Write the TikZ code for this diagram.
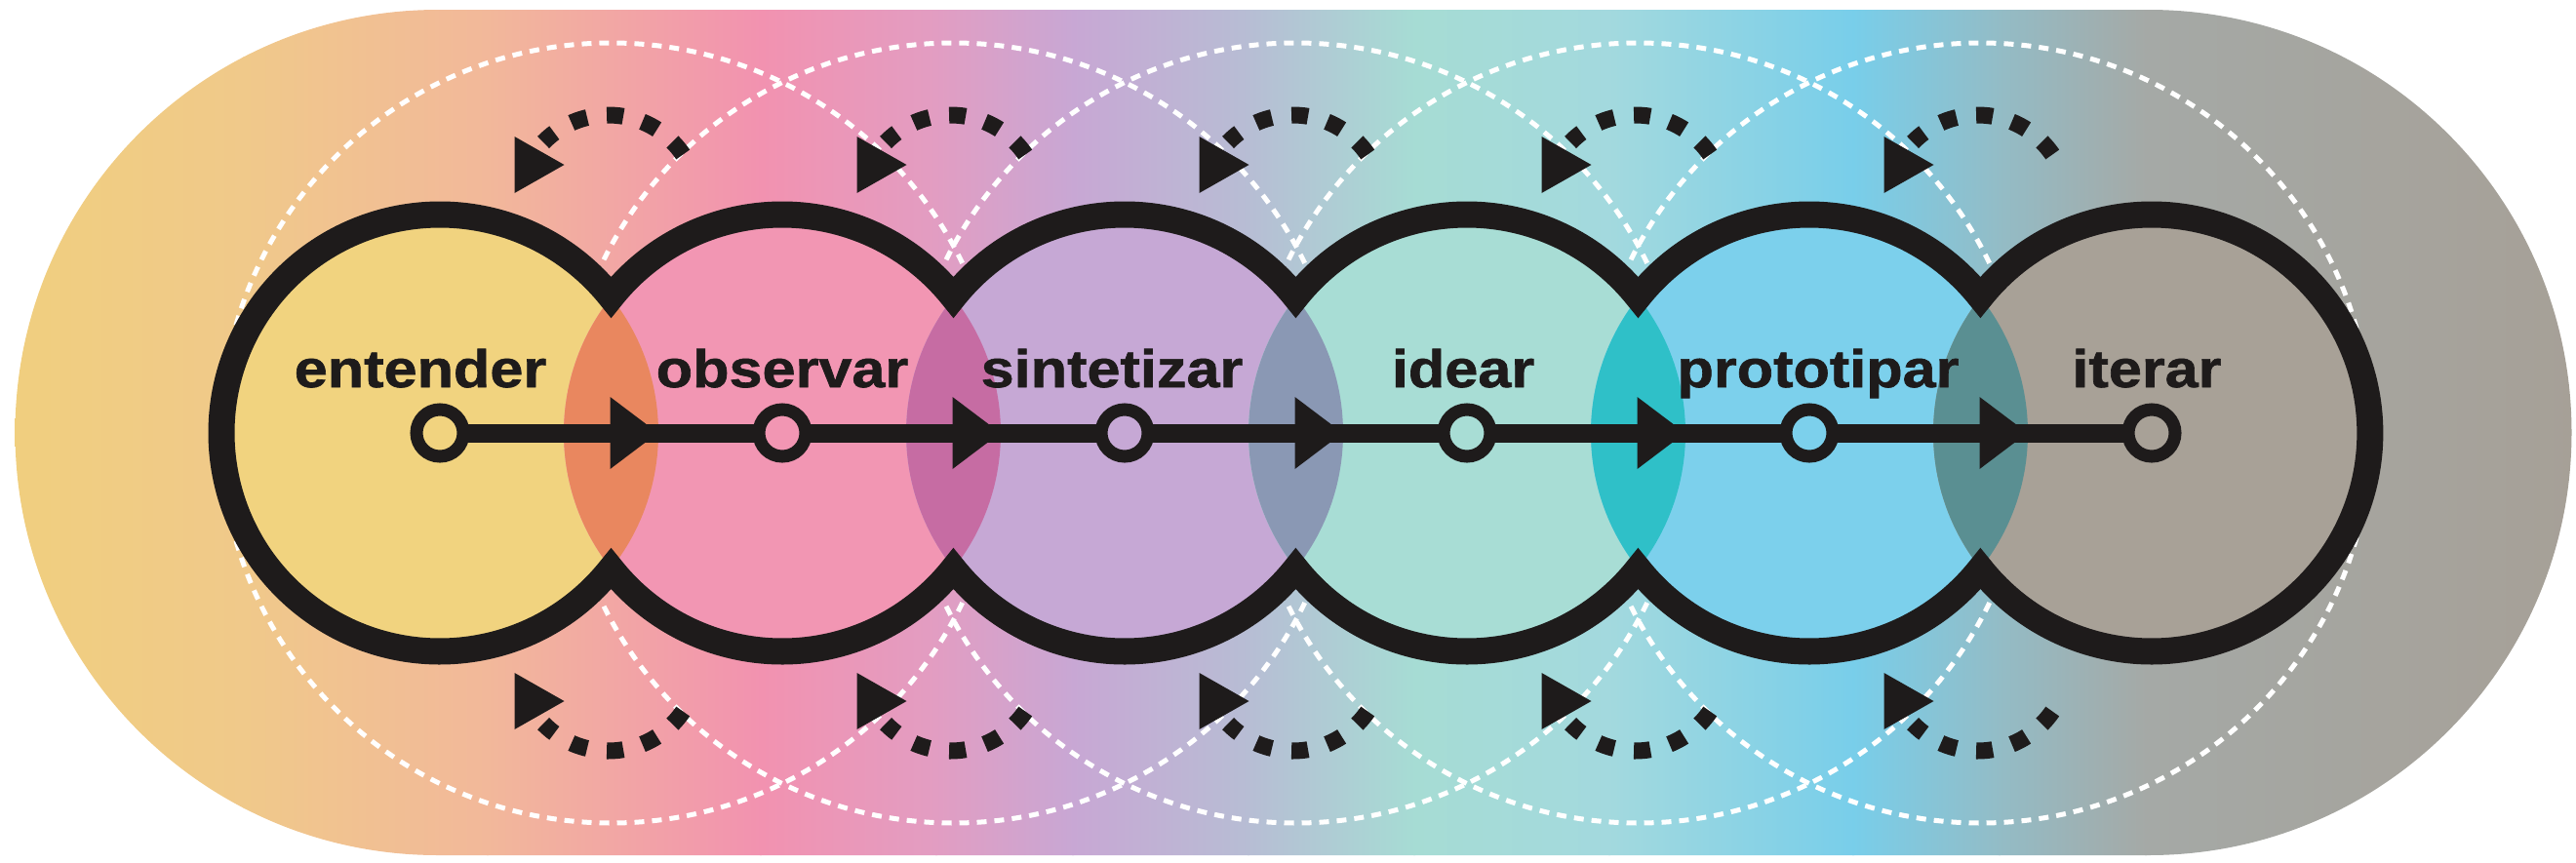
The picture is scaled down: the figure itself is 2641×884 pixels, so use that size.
\documentclass[tikz,border=0pt]{standalone}
\usepackage{fontspec}
\newfontfamily\labfont{Liberation Sans}[FakeStretch=1.13,FakeBold=1.2]
\usetikzlibrary{calc}
\definecolor{ink}{HTML}{1E1B1B}
\definecolor{bgA}{HTML}{F0CF7E}
\definecolor{bgB}{HTML}{F0C98A}
\definecolor{bgC}{HTML}{F2B89A}
\definecolor{bgD}{HTML}{F292B0}
\definecolor{bgE}{HTML}{E29DC2}
\definecolor{bgF}{HTML}{C8A7D4}
\definecolor{bgG}{HTML}{B7BDD4}
\definecolor{bgH}{HTML}{A6DCD4}
\definecolor{bgI}{HTML}{A3D9DE}
\definecolor{bgJ}{HTML}{78CEEA}
\definecolor{bgK}{HTML}{93BCC6}
\definecolor{bgL}{HTML}{A5A9A6}
\definecolor{bgM}{HTML}{A6A097}
\definecolor{cA}{HTML}{F1D37F}
\definecolor{cB}{HTML}{F296B3}
\definecolor{cC}{HTML}{C6A8D5}
\definecolor{cD}{HTML}{A8DDD5}
\definecolor{cE}{HTML}{7CD0EC}
\definecolor{cF}{HTML}{A8A197}
\definecolor{lA}{HTML}{E9875F}
\definecolor{lB}{HTML}{C66CA3}
\definecolor{lC}{HTML}{8A98B4}
\definecolor{lD}{HTML}{2FC0C8}
\definecolor{lE}{HTML}{5A8F92}
\begin{document}
\begin{tikzpicture}[x=0.01cm,y=-0.01cm,
  lbl/.style={font=\labfont\bfseries\fontsize{15.4pt}{18pt}\selectfont, text=ink, anchor=base, inner sep=0pt},
  outline/.style={draw=ink, line width=0.27cm, line join=miter},
  dashc/.style={draw=white, line width=0.05cm, dash pattern=on 0.1cm off 0.08cm},
  dotarc/.style={draw=ink, line width=0.17cm, dash pattern=on 0.17cm off 0.203cm},
  mainline/.style={draw=ink, line width=0.19cm},
  marker/.style={circle, draw=ink, line width=0.13cm, minimum size=0.48cm, inner sep=0pt},
]
\useasboundingbox (0,0) rectangle (2641,884);

% centres of the six circles and the five cusps
\foreach \i in {1,...,6} \coordinate (c\i) at ({451+351*(\i-1)},444);
\foreach \i in {1,...,5} \coordinate (k\i) at ({626.5+351*(\i-1)},444);

% background stadium with horizontal gradient
\begin{scope}
  \clip (449,10) -- (2203,10) arc[start angle=-90,end angle=90,radius=433.5]
        -- (449,877) arc[start angle=90,end angle=270,radius=433.5] -- cycle;
  \foreach \xa/\xb/\ca/\cb in {0/250/bgA/bgB, 250/500/bgB/bgC, 500/780/bgC/bgD,
      780/960/bgD/bgE, 960/1100/bgE/bgF, 1100/1280/bgF/bgG, 1280/1450/bgG/bgH,
      1450/1650/bgH/bgI, 1650/1900/bgI/bgJ, 1900/2050/bgJ/bgK, 2050/2200/bgK/bgL,
      2200/2641/bgL/bgM}
    \shade[left color=\ca, right color=\cb] (\xa-1,0) rectangle (\xb+1,884);
\end{scope}

% dashed white circles
\foreach \i in {1,...,5} \draw[dashc] (k\i) circle[radius=400];

% dotted cycle icons above and below each cusp
\foreach \i in {1,...,5} {
  \coordinate (t\i) at ($(k\i)+(-3,-233)$);
  \draw[dotarc] ($(t\i)+(-34.4:93)$) arc[start angle=-34.4,end angle=-135.6,radius=93];
  \fill[ink] ($(k\i)+(-99,-304)$) -- ($(k\i)+(-99,-246)$) -- ($(k\i)+(-48,-275)$) -- cycle;
  \coordinate (b\i) at ($(k\i)+(-3,233)$);
  \draw[dotarc] ($(b\i)+(34.4:93)$) arc[start angle=34.4,end angle=135.6,radius=93];
  \fill[ink] ($(k\i)+(-99,304)$) -- ($(k\i)+(-99,246)$) -- ($(k\i)+(-48,275)$) -- cycle;
}

% circle fills
\foreach \i/\col in {1/cA,2/cB,3/cC,4/cD,5/cE,6/cF}
  \fill[\col] (c\i) circle[radius=224];
% lens fills
\foreach \i/\j/\col in {1/2/lA,2/3/lB,3/4/lC,4/5/lD,5/6/lE} {
  \begin{scope}
    \clip (c\i) circle[radius=224];
    \fill[\col] (c\j) circle[radius=224];
  \end{scope}
}

% union outline
\draw[outline] ($(c1)+(38.42:224)$) arc[start angle=38.42,end angle=321.58,radius=224]
  arc[start angle=218.42,end angle=321.58,radius=224]
  arc[start angle=218.42,end angle=321.58,radius=224]
  arc[start angle=218.42,end angle=321.58,radius=224]
  arc[start angle=218.42,end angle=321.58,radius=224]
  arc[start angle=218.42,end angle=501.58,radius=224]
  arc[start angle=38.42,end angle=141.58,radius=224]
  arc[start angle=38.42,end angle=141.58,radius=224]
  arc[start angle=38.42,end angle=141.58,radius=224]
  arc[start angle=38.42,end angle=141.58,radius=224]
  -- cycle;

% connectors
\foreach \i/\j in {1/2,2/3,3/4,4/5,5/6} {
  \draw[mainline] (c\i) -- (c\j);
  \fill[ink] ($(k\i)+(-1,-37)$) -- ($(k\i)+(-1,37)$) -- ($(k\i)+(48,0)$) -- cycle;
}

% markers
\foreach \i/\col in {1/cA,2/cB,3/cC,4/cD,5/cE,6/cF}
  \node[marker, fill=\col] (m\i) at (c\i) {};

% labels
\node[lbl] (l1) at (431,397) {entender};
\node[lbl] (l2) at (802,397) {observar};
\node[lbl] (l3) at (1140,397) {sintetizar};
\node[lbl] (l4) at (1500,397) {idear};
\node[lbl] (l5) at (1864,397) {prototipar};
\node[lbl] (l6) at (2201,397) {iterar};
\end{tikzpicture}
\end{document}
